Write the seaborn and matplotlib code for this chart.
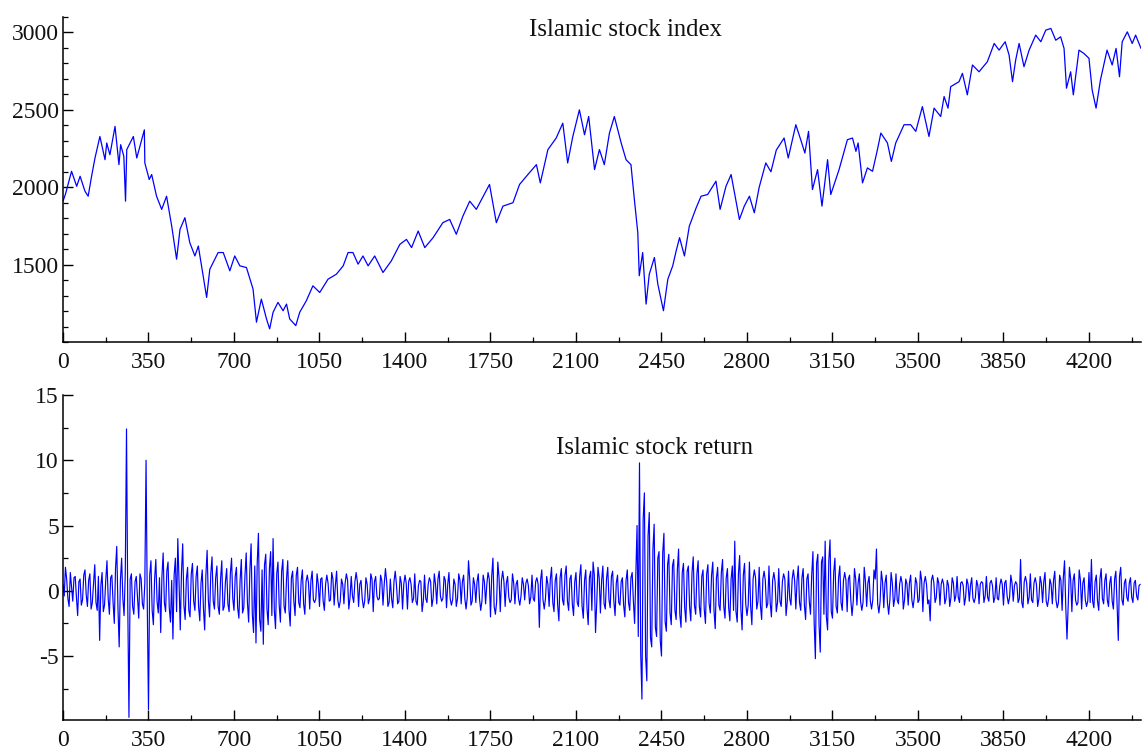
import numpy as np
import pandas as pd
import matplotlib
matplotlib.use("Agg")
import matplotlib.pyplot as plt
from matplotlib.ticker import MultipleLocator, FixedLocator
import seaborn as sns

# ---------------- data ----------------
index_t = [0, 10, 35, 56, 70, 90, 103, 117, 131, 151, 172, 179, 192, 213, 229, 236, 249, 256, 261, 288,
           302, 322, 333, 335, 353, 363, 383, 404, 424, 445, 465, 479, 499, 519, 540, 554, 588, 601, 635, 656,
           683, 703, 724, 751, 778, 792, 812, 833, 846, 860, 880, 901, 915, 928, 953, 969, 996, 1023, 1051, 1085,
           1119, 1147, 1167, 1187, 1208, 1228, 1249, 1276, 1310, 1344, 1379, 1406, 1427, 1454, 1481, 1515, 1555, 1583, 1610, 1637,
           1665, 1692, 1746, 1774, 1801, 1842, 1869, 1903, 1938, 1954, 1985, 2019, 2046, 2066, 2087, 2114, 2135, 2152, 2176, 2196,
           2216, 2237, 2257, 2285, 2305, 2325, 2339, 2353, 2359, 2373, 2387, 2400, 2421, 2435, 2458, 2476, 2496, 2510, 2524, 2544,
           2564, 2592, 2612, 2639, 2673, 2690, 2714, 2735, 2769, 2789, 2810, 2830, 2850, 2877, 2898, 2920, 2952, 2969, 3000, 3020,
           3037, 3052, 3068, 3089, 3107, 3130, 3143, 3177, 3211, 3232, 3246, 3255, 3273, 3293, 3314, 3334, 3348, 3375, 3391, 3409,
           3443, 3470, 3491, 3518, 3545, 3566, 3593, 3607, 3623, 3634, 3668, 3682, 3702, 3723, 3750, 3784, 3812, 3832, 3857, 3873,
           3887, 3900, 3914, 3934, 3955, 3982, 4003, 4023, 4044, 4064, 4084, 4098, 4108, 4125, 4136, 4159, 4179, 4200, 4213, 4229,
           4247, 4274, 4295, 4311, 4325, 4336, 4357, 4377, 4391, 4413]
index_v = [1910, 1955, 2103, 2006, 2071, 1974, 1942, 2071, 2189, 2328, 2178, 2286, 2210, 2393, 2146, 2275, 2200, 1910, 2243, 2328,
           2189, 2307, 2371, 2157, 2050, 2082, 1942, 1857, 1942, 1749, 1535, 1728, 1803, 1642, 1556, 1620, 1288, 1470, 1578, 1578,
           1460, 1556, 1492, 1481, 1342, 1128, 1277, 1149, 1085, 1192, 1256, 1202, 1245, 1149, 1106, 1192, 1266, 1363, 1320, 1406,
           1438, 1492, 1578, 1578, 1503, 1556, 1492, 1556, 1449, 1524, 1631, 1663, 1610, 1717, 1610, 1674, 1771, 1792, 1696, 1813,
           1910, 1857, 2018, 1771, 1878, 1900, 2018, 2082, 2146, 2028, 2243, 2318, 2414, 2157, 2328, 2500, 2339, 2457, 2114, 2243,
           2146, 2350, 2457, 2286, 2178, 2146, 1921, 1707, 1428, 1578, 1245, 1438, 1546, 1374, 1202, 1406, 1492, 1588, 1674, 1556,
           1749, 1867, 1942, 1953, 2039, 1857, 2006, 2082, 1792, 1878, 1942, 1835, 2000, 2157, 2100, 2240, 2318, 2189, 2404, 2307,
           2221, 2361, 1985, 2114, 1878, 2178, 1953, 2114, 2307, 2318, 2232, 2286, 2028, 2125, 2103, 2243, 2350, 2286, 2167, 2286,
           2404, 2404, 2361, 2521, 2328, 2511, 2457, 2586, 2511, 2650, 2682, 2736, 2597, 2790, 2746, 2811, 2929, 2886, 2940, 2854,
           2682, 2822, 2929, 2779, 2886, 2983, 2940, 3015, 3026, 2950, 2972, 2897, 2640, 2746, 2597, 2886, 2865, 2833, 2629, 2511,
           2693, 2886, 2790, 2897, 2714, 2940, 3004, 2929, 2983, 2897]

# returns read at every 10th observation (t = 0, 10, 20, ...)
return_v = [
    0.5, 1.8, -0.6, 1.4, -0.8, 1.1, -1.9, 0.9, -0.7, 1.6, -1.2, 1.3, -0.9, 2.0, -1.5, -3.8, 1.4, -1.1, 2.3, -1.8,
    1.2, -2.5, 3.4, -4.3, 2.5, -1.9, 12.4, -9.7, 1.3, -1.8, 1.1, -2.1, 0.9, -1.4, 10.0, -9.1, 2.3, -2.6, 2.4, -1.7,
    -3.2, 2.9, -1.6, 2.2, -2.4, -3.7, 2.5, 4.0, -3.0, 3.6, -2.2, 1.8, -2.0, 2.1, -1.5, 1.9, -2.3, 1.6, -3.0, 3.1,
    -2.0, 2.6, -1.4, 1.9, -1.8, 2.3, -1.2, 1.7, -1.6, 2.5, -1.5, 1.8, -2.1, 2.4, -1.3, 2.9, -2.4, 3.6, -3.2, -4.0,
    4.4, -3.1, -4.1, 2.8, -2.6, 3.0, 4.0, -2.9, 2.2, -2.4, 2.4, -1.7, 2.3, -2.7, 1.5, -1.9, 1.8, -1.3, 1.6, -1.8,
    1.2, -1.4, 1.5, -0.9, 1.3, -1.2, 1.0, -1.5, 1.2, -0.8, 1.4, -1.1, 1.5, -1.3, 0.9, -1.0, 1.3, -1.4, 1.1, -0.9,
    1.4, -1.2, 0.8, -1.3, 1.0, -1.0, 1.3, -1.6, 1.1, -0.7, 1.2, -1.1, 1.7, -1.2, 0.9, -1.3, 1.5, -1.0, 1.1, -1.4,
    1.2, -1.4, 1.0, -0.9, 1.3, -1.1, 0.8, -1.6, 1.2, -0.9, 1.0, -1.2, 1.3, -1.0, 1.5, -0.8, 1.1, -1.3, 1.4, -1.1,
    0.9, -1.2, 1.3, -1.0, 1.2, -1.4, 2.3, -1.1, 1.0, -0.9, 1.3, -1.5, 1.2, -1.0, 1.4, -2.0, 2.5, -1.8, 2.2, -1.6,
    1.5, -1.2, 1.1, -0.9, 1.3, -1.0, 0.8, -1.1, 1.0, -0.7, 0.9, -1.0, 1.2, -0.8, 1.0, -2.8, 1.6, -1.4, 1.1, -1.2,
    1.8, -1.6, 1.3, -2.3, 1.7, -1.1, 1.9, -1.5, 1.2, -1.9, 1.4, -1.2, 2.0, -2.1, 1.6, -2.6, 1.5, 2.2, -3.2, 1.8,
    -1.7, 1.9, -1.4, 1.8, -1.3, 1.5, -1.9, 1.2, -1.1, 1.0, -2.0, 1.6, -1.5, 1.4, -2.5, 5.0, 9.8, -8.3, 7.5, -6.9,
    6.0, -4.3, 5.1, -3.5, 3.0, -5.0, 4.4, -3.1, 2.8, -2.6, 2.4, -2.2, 3.2, -2.8, 2.1, -2.4, 1.9, -2.3, 2.6, -1.8,
    2.3, -2.0, 1.6, -2.5, 2.0, -1.7, 2.2, -2.9, 1.8, -1.5, 2.4, -2.1, 1.7, -2.3, 1.9, 3.8, -2.4, 2.7, -3.0, 2.1,
    -1.9, 2.2, -2.6, 1.6, -1.4, 1.8, -2.2, 1.5, -1.3, 1.9, -2.0, 1.4, -1.6, 1.7, -1.2, 1.3, -1.9, 1.5, -1.1, 1.6,
    -1.4, 1.9, -1.5, 1.7, -2.2, 1.3, -1.8, 3.0, -5.2, 2.8, -4.7, 2.6, 3.8, -3.0, 3.9, -2.1, 2.5, -1.7, 1.9, -1.5,
    1.4, -1.6, 1.2, -1.9, 1.7, -1.1, 1.3, -1.5, 1.8, -1.2, 1.1, -1.4, 1.6, 3.2, -1.7, 1.5, -1.3, 1.2, -1.8, 1.4,
    -1.2, 1.3, -1.0, 1.1, -1.4, 0.9, -1.1, 1.2, -1.3, 1.0, -0.9, 1.5, -1.6, 1.1, -1.0, -2.3, 1.2, -0.9, 1.0, -1.1,
    0.9, -1.0, 0.8, -1.2, 1.0, -0.8, 1.1, -0.9, 0.7, -1.1, 0.9, -0.8, 1.0, -0.9, 0.8, -1.0, 0.7, -0.9, 1.1, -0.8,
    0.8, -0.9, 1.0, -0.7, 0.9, -1.1, 0.8, -1.0, 1.2, -0.8, 0.7, -0.9, 2.4, -1.3, 1.1, -1.0, 1.3, -0.9, 1.0, -1.2,
    1.1, -0.9, 1.4, -1.2, 0.9, -1.0, 1.5, -1.3, 1.2, -1.5, 2.3, -3.7, 1.8, -1.6, 1.3, -1.1, 1.6, -1.4, 1.0, -1.2,
    1.4, 2.4, -1.3, 1.2, -1.5, 1.7, -1.0, 1.3, -1.2, 1.1, -1.4, 1.5, -3.8, 1.8, -1.1, 0.9, -0.8, 1.0, -0.9, 0.8,
    -0.7, 0.5,
]
# returns read in between (t = 5, 15, 25, ...)
return_v_mid = [
    -0.4, 0.9, -1.2, 0.3, 1.0, -0.5, 0.7, -1.1, 1.2, -0.3, 0.8, -1.4, 0.6, -0.9, 1.1, 0.4, -1.6, 0.8, -0.6, 1.0,
    -0.9, 1.7, -1.3, 0.8, -0.6, 1.4, -0.8, 0.9, -1.2, 0.7, -0.5, 1.3, -1.0, 0.6, -1.1, 1.2, -1.5, 0.9, -0.8, 1.0,
    1.1, -0.9, 1.5, -1.3, 0.8, 1.2, -1.6, 0.7, 1.4, -1.1, 0.9, -1.5, 1.3, -0.8, 1.1, -1.2, 0.6, -1.4, 1.2, -0.7,
    1.3, -0.8, 1.0, -1.2, 0.9, -1.5, 0.7, -1.0, 1.3, -0.6, 1.1, -1.3, 0.8, -1.7, 1.2, -0.9, 1.6, -1.8, 1.9, 2.1,
    -2.2, 1.6, 2.0, -1.4, 1.7, -1.9, -1.5, 1.3, -1.1, 1.5, -1.2, 0.9, -1.4, 1.0, -0.8, 1.2, -0.9, 0.8, -1.0, 0.7,
    0.6, 0.8, -0.7, -0.6, 0.5, 0.9, -0.8, 0.5, 0.6, -0.7, 0.9, 0.4, -0.7, -0.8, 0.5, 0.6, 0.8, -0.5, -0.4, 0.7,
    0.7, 0.5, -0.6, -0.8, 0.5, -0.6, 0.9, 0.7, -0.4, -0.6, 0.8, 0.5, 0.7, -0.9, -0.6, 0.7, 0.5, -0.8, 0.6, 0.5,
    0.6, 0.7, 0.5, -0.6, -0.8, 0.4, 0.7, -0.8, -0.6, 0.5, 0.7, -0.6, 0.5, 0.9, -0.4, -0.6, 0.8, 0.5, -0.6, -0.7,
    0.5, -0.6, 0.8, 0.7, -0.6, -0.5, 0.9, -0.8, 0.5, 0.7, -0.6, -0.8, 0.7, 0.5, 0.9, 1.1, -1.2, -0.9, 1.0, 0.8,
    0.7, 0.6, -0.5, -0.7, 0.6, 0.5, -0.6, -0.4, 0.5, 0.6, 0.4, -0.5, -0.6, 0.7, 0.5, 0.8, -0.7, -0.6, 0.5, 0.9,
    -0.9, 0.8, -1.1, 1.0, -0.7, 1.2, -0.8, 0.9, -1.0, 0.7, -0.9, 1.1, -1.2, 0.8, -1.3, 1.0, -1.5, 1.2, -0.9, 1.0,
    0.8, -1.0, 0.9, -0.7, 1.1, -0.8, 0.6, -0.9, 0.7, -1.1, 0.8, -0.9, 1.0, -0.8, 1.2, -3.5, -4.8, 5.5, -5.0, 4.2,
    -3.6, 3.2, -2.8, 2.5, -3.8, 2.9, -2.4, 2.0, -1.7, 1.9, -1.5, 1.6, -1.8, 1.4, -1.3, 1.5, -1.2, 1.4, -1.1, 1.3,
    -1.2, 1.1, -1.4, 1.3, -1.0, 1.2, -1.5, 1.0, -1.1, 1.4, -1.2, 1.0, -1.3, 0.9, -1.5, -1.6, 1.3, -1.4, 1.2, -1.0,
    -1.1, -1.2, 0.9, 1.0, -0.8, -1.1, 0.9, 0.8, -1.0, -0.9, 0.8, 0.7, -0.9, -0.8, 0.7, 0.9, -0.8, -0.6, 0.9, 0.8,
    0.8, -0.9, 1.0, -1.1, 0.9, -0.8, 1.2, -2.4, 2.1, -2.6, 2.2, -1.8, -2.0, 2.3, -1.6, 1.4, -1.2, 1.0, -0.9, 0.8,
    0.8, 0.9, -0.7, -0.8, 0.9, 0.6, -0.8, -0.9, 0.7, 0.6, -0.8, -0.7, 0.9, -1.0, -0.8, 0.7, 0.6, -0.9, -0.7, 0.6,
    -0.6, -0.7, 0.5, 0.6, -0.7, 0.5, 0.6, -0.7, -0.5, 0.6, -0.7, 0.8, 0.6, 0.5, -0.7, 0.8, 0.6, -0.5, 0.6, 0.5,
    0.5, -0.6, 0.4, -0.5, 0.6, -0.4, -0.5, 0.6, 0.4, -0.5, 0.5, 0.4, -0.6, -0.5, 0.4, 0.5, 0.6, -0.4, -0.5, 0.6,
    0.4, -0.5, -0.6, 0.4, 0.5, 0.6, -0.4, -0.5, 0.6, 0.4, 0.5, -0.6, -0.9, 0.7, 0.6, -0.5, -0.7, 0.6, 0.5, -0.6,
    0.6, 0.7, -0.8, -0.6, 0.5, 0.8, -0.7, -0.9, 0.8, 1.0, -1.2, -1.1, 0.9, 0.8, -0.7, -0.9, 0.8, 0.6, -0.7, -0.8,
    -0.9, -0.8, 0.7, -0.8, 0.9, -0.6, 0.8, -0.7, 0.6, -0.8, 0.9, -1.0, 1.1, -0.7, 0.6, -0.5, 0.6, -0.5, 0.6, -0.4,
    0.4,
]
return_t = [10 * i for i in range(len(return_v))]
return_t_mid = [10 * i + 5 for i in range(len(return_v_mid))]

titles = ["Islamic stock index", "Islamic stock return"]
x_major = [0, 350, 700, 1050, 1400, 1750, 2100, 2450, 2800, 3150, 3500, 3850, 4200]
y_major_top = [1500, 2000, 2500, 3000]
y_major_bot = [-5, 0, 5, 10, 15]

# ---------------- style ----------------
sns.set_style("ticks")
plt.rcParams["font.family"] = ["Liberation Serif", "DejaVu Serif"]

fig = plt.figure(figsize=(11.42, 7.51), dpi=100)
W, H = 1142, 751
ax1 = fig.add_axes([63 / W, 1 - 342 / H, (1141 - 63) / W, (342 - 17) / H])
ax2 = fig.add_axes([63 / W, 1 - 720 / H, (1141 - 63) / W, (720 - 395) / H])

df_idx = pd.DataFrame({"t": index_t, "v": index_v})
df_ret = pd.DataFrame({"t": return_t + return_t_mid, "v": return_v + return_v_mid}).sort_values("t")

sns.lineplot(data=df_idx, x="t", y="v", ax=ax1, color="#0000FF", linewidth=0.9)
sns.lineplot(data=df_ret, x="t", y="v", ax=ax2, color="#0000FF", linewidth=0.85,
             estimator=None, sort=False)

ax1.set_xlim(0, 4413)
ax2.set_xlim(0, 4413)
ax1.set_ylim(1000, 3100)
ax2.set_ylim(-9.9, 15)

for ax in (ax1, ax2):
    sns.despine(ax=ax, top=True, right=True)
    for s in ("left", "bottom"):
        ax.spines[s].set_linewidth(1.1)
        ax.spines[s].set_color("black")
    ax.set_xlabel("")
    ax.set_ylabel("")
    ax.xaxis.set_major_locator(FixedLocator(x_major))
    ax.xaxis.set_minor_locator(MultipleLocator(175))
    ax.set_xticklabels([str(v) for v in x_major])
    ax.tick_params(axis="both", which="major", direction="in", length=7, width=1.0,
                   labelsize=17, color="black", labelcolor="#111111")
    ax.tick_params(axis="both", which="minor", direction="in", length=3.8, width=0.9, color="black")
    ax.tick_params(axis="x", which="major", pad=7)
    ax.tick_params(axis="y", which="major", pad=3)
    ax.grid(False)
    ax.set_facecolor("white")

ax1.yaxis.set_major_locator(FixedLocator(y_major_top))
ax1.yaxis.set_minor_locator(MultipleLocator(100))
ax1.set_yticklabels([str(v) for v in y_major_top])
ax2.yaxis.set_major_locator(FixedLocator(y_major_bot))
ax2.yaxis.set_minor_locator(MultipleLocator(2.5))
ax2.set_yticklabels([str(v) for v in y_major_bot])

ax1.text((625.6 - 63) / 1078, (342 - 30) / 325, titles[0], transform=ax1.transAxes,
         ha="center", va="center", fontsize=17.8, color="#111111")
ax2.text((655 - 63) / 1078, (720 - 448.3) / 325, titles[1], transform=ax2.transAxes,
         ha="center", va="center", fontsize=17.8, color="#111111")

fig.savefig("out.png", dpi=100, facecolor="white")
